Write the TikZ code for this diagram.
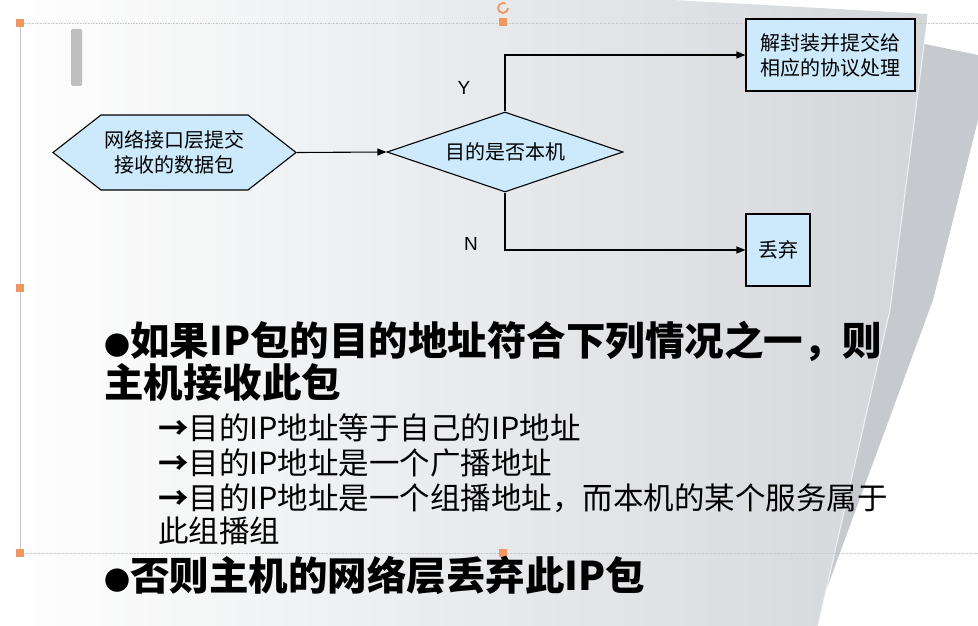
\documentclass[tikz,border=0pt]{standalone}
\usepackage{fontspec}
\setmainfont{Noto Sans CJK SC}
\newfontfamily\heavycjk{Noto Sans CJK SC Black}
\newfontfamily\latinsans{Liberation Sans}
\usetikzlibrary{shapes.geometric,shapes.symbols,arrows.meta,positioning}

\definecolor{boxblue}{RGB}{204,234,252}
\definecolor{pagegray}{RGB}{211,214,217}
\definecolor{pagedark}{RGB}{198,201,205}
\definecolor{grip}{RGB}{240,150,96}
\definecolor{framegray}{RGB}{200,200,200}

\newcommand{\dotmark}{{\fontsize{26}{26}\selectfont ●}}
\newcommand{\casearrow}{{\bfseries →}}

\tikzset{
  flow/.style={draw=black, line width=1.1pt, fill=boxblue, inner sep=0pt,
    align=center, font=\fontsize{20}{25}\selectfont},
  link/.style={line width=1.1pt, -{Triangle[length=9pt,width=7pt]}},
  yn/.style={font=\latinsans\fontsize{19}{19}\selectfont, inner sep=0pt},
  handle/.style={fill=grip, minimum size=8pt, inner sep=0pt},
  bigline/.style={anchor=base west, inner sep=0pt,
    font=\heavycjk\fontsize{39.5}{43}\selectfont},
  subline/.style={anchor=base west, inner sep=0pt,
    font=\fontsize{30.5}{34}\selectfont}
}

\begin{document}
\begin{tikzpicture}[x=1pt,y=-1pt]
\useasboundingbox (0,0) rectangle (978,626);

% background pages
\fill[white] (0,0) rectangle (978,626);
\fill[pagedark] (905,40) -- (978,55) -- (978,120) -- (933,300) -- (813,626) -- (700,626) -- cycle;
\shade[left color=white, right color=pagegray] (0,0) -- (673,0) -- (928,14) -- (890,310) -- (818,626) -- (0,626) -- cycle;
\draw[white, line width=1pt, opacity=0.7] (928,14) -- (890,310) -- (818,626);

% selection frame
\draw[framegray, densely dotted, line width=0.6pt] (978,23) -- (20,23);
\draw[framegray, densely dotted, line width=0.6pt] (20,553) -- (978,553);
\draw[framegray, line width=0.5pt] (20,23) -- (20,553);
\foreach \x/\y in {20/23, 20/288, 20/553, 503/553, 503/22}
{
\node[handle] at (\x,\y) {};
}
\draw[grip, line width=1.8pt] (508,8) arc (0:300:5);
\fill[gray!50, rounded corners=1.5pt] (71,29) rectangle (82,86);

% flow chart
\node[flow, signal, signal to=west and east, signal pointer angle=76,
  minimum width=243pt, minimum height=75pt] (packet) at (174.5,152.5) {网络接口层提交\\接收的数据包};
\node[flow, diamond, aspect=2.95, minimum width=236pt, minimum height=80pt] (isme) at (505,152) {目的是否本机};
\node[flow, minimum width=169pt, minimum height=72pt] (deliver) at (830.5,55) {解封装并提交给\\相应的协议处理};
\node[flow, minimum width=64pt, minimum height=72pt] (drop) at (778,250) {丢弃};

\draw[link] (packet.east) -- (isme.west);
\draw[link] (isme.north) |- (deliver.west);
\draw[link] (isme.south) |- (drop.west);

\node[yn] (ylabel) at (464,88) {Y};
\node[yn] (nlabel) at (471,244) {N};

% text
\node[bigline] (rule1) at (104,355) {\dotmark 如果IP包的目的地址符合下列情况之一，则};
\node[bigline] (rule1b) at (104,397) {主机接收此包};
\node[subline] (case1) at (158,439) {\casearrow 目的IP地址等于自己的IP地址};
\node[subline] (case2) at (158,474) {\casearrow 目的IP地址是一个广播地址};
\node[subline] (case3) at (158,509) {\casearrow 目的IP地址是一个组播地址，而本机的某个服务属于};
\node[subline] (case3b) at (158,542) {此组播组};
\node[bigline] (rule2) at (104,590) {\dotmark 否则主机的网络层丢弃此IP包};

\end{tikzpicture}
\end{document}
